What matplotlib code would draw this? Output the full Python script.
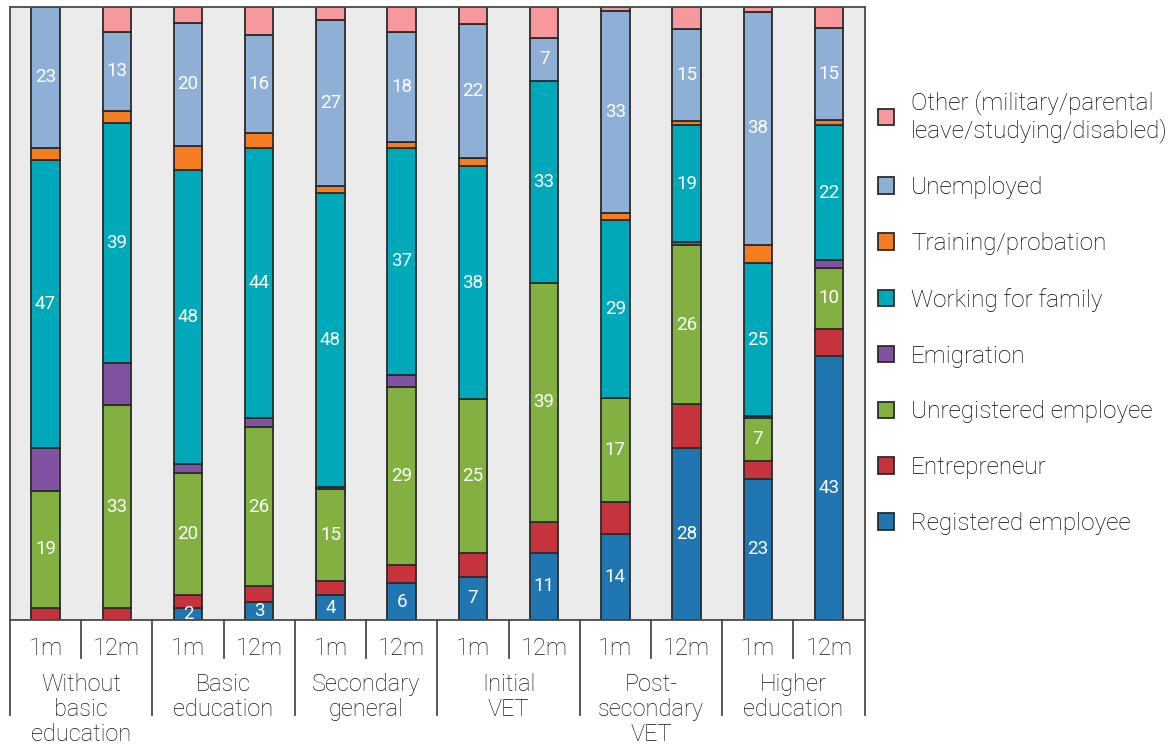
import matplotlib.pyplot as plt
from matplotlib.patches import Patch

plt.rcParams['font.family'] = ['Roboto', 'DejaVu Sans']

# Status of graduates 1 and 12 months after leaving school, % by education level
periods = ["1m", "12m"] * 6
groups = ["Without\nbasic\neducation", "Basic\neducation", "Secondary\ngeneral",
          "Initial\nVET", "Post-\nsecondary\nVET", "Higher\neducation"]

registered = [0, 0, 2, 3, 4, 6, 7, 11, 14, 28, 23, 43]
entrepreneur = [2, 2, 2, 2.5, 2.3, 3, 4, 5, 5.2, 7.2, 3.0, 4.5]
unregistered = [19, 33, 20, 26, 15, 29, 25, 39, 17, 26, 7, 10]
emigration = [7, 7, 1.4, 1.5, 0.4, 2, 0, 0, 0, 0.5, 0.2, 1.2]
family = [47, 39, 48, 44, 48, 37, 38, 33, 29, 19, 25, 22]
training = [2, 2, 4, 2.5, 1.1, 1, 1.3, 0, 1.2, 0.7, 3, 0.9]
unemployed = [23, 13, 20, 16, 27, 18, 22, 7, 33, 15, 38, 15]
other = [0, 4, 2.6, 4.5, 2.2, 4, 2.7, 5, 0.6, 3.6, 0.8, 3.4]

series = [
    ("Registered employee", registered, "#2076b0", True),
    ("Entrepreneur", entrepreneur, "#c6333c", False),
    ("Unregistered employee", unregistered, "#82b041", True),
    ("Emigration", emigration, "#8152a0", False),
    ("Working for family", family, "#00a9ba", True),
    ("Training/probation", training, "#f47c21", False),
    ("Unemployed", unemployed, "#8fb0d6", True),
    ("Other (military/parental\nleave/studying/disabled)", other, "#f7999c", False),
]

fig = plt.figure(figsize=(11.7, 7.46), dpi=100)
ax = fig.add_axes([0.0085, 0.169, 0.7305, 0.8216])
ax.set_facecolor("#ebebeb")

x = list(range(len(periods)))
bottom = [0.0] * len(x)
for name, vals, color, labelled in series:
    ax.bar(x, vals, width=0.4, bottom=bottom, color=color,
           edgecolor="#2b2b2b", linewidth=1.3)
    if labelled:
        for i, v in enumerate(vals):
            if v > 0:
                ax.text(i, bottom[i] + v / 2, f"{v:g}", ha="center", va="center",
                        color="white", fontsize=13.5)
    bottom = [b + v for b, v in zip(bottom, vals)]

ax.set_xlim(-0.5, len(x) - 0.5)
ax.set_ylim(0, 100)
ax.set_xticks([])
ax.set_yticks([])
for s in ax.spines.values():
    s.set_color("#4a4a4a")
    s.set_linewidth(1.3)

# table-like category axis under the bars
tr = ax.get_xaxis_transform()
for i, p in enumerate(periods):
    ax.text(i, -0.046, p, transform=tr, ha="center", va="center",
            fontsize=17, fontweight="light", color="#151515")
for k in range(len(x) + 1):
    xp = k - 0.5
    y_end = -0.155 if k % 2 == 0 else -0.062
    ax.plot([xp, xp], [0, y_end], transform=tr, color="#4a4a4a",
            linewidth=1.3, clip_on=False)
for g, label in enumerate(groups):
    ax.text(2 * g + 0.5, -0.086, label, transform=tr, ha="center", va="top",
            fontsize=17, fontweight="light", color="#151515", linespacing=1.12)

handles = [Patch(facecolor=c, edgecolor="#2b2b2b", linewidth=1.3, label=n)
           for n, _, c, _ in reversed(series)]
fig.legend(handles=handles, loc="center left", bbox_to_anchor=(0.742, 0.581),
           frameon=False, handlelength=0.66, handleheight=0.66,
           handletextpad=0.7, labelspacing=1.35, borderaxespad=0,
           prop={"size": 17.5, "weight": "light"})

fig.savefig("out.png", dpi=100)
